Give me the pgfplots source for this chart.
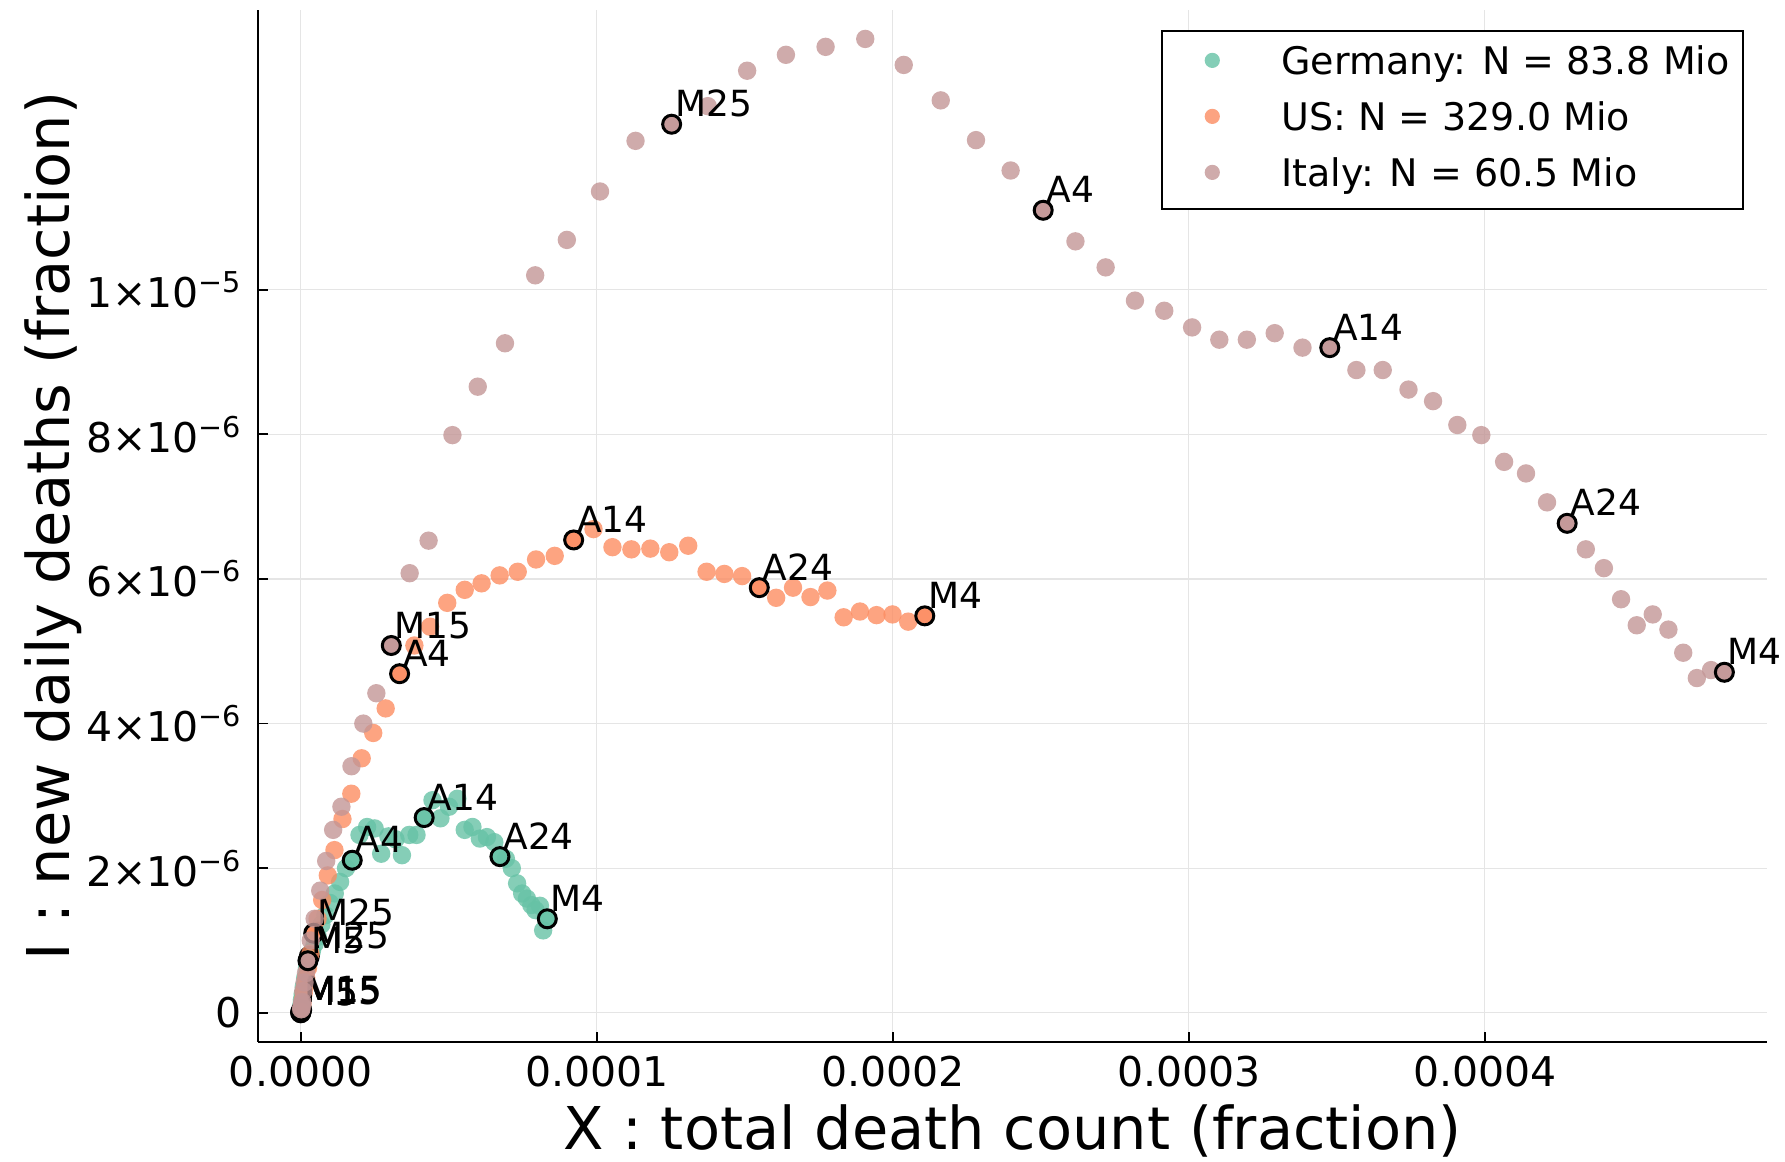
\documentclass[border=0pt]{standalone}
\usepackage{pgfplots}
\pgfplotsset{compat=1.18}
\usepackage{pgfplotstable}
\usepackage{fontspec}
\setmainfont{DejaVu Sans}

\definecolor{gerC}{HTML}{66C2A5}
\definecolor{usC}{HTML}{FC8D62}
\definecolor{itaC}{RGB}{195,150,150}

% x: total deaths / N in units of 1e-4, y: new daily deaths / N in units of 1e-6
% one row per day
\pgfplotstableread{
x y
0.0000 0.000
0.0000 0.000
0.0000 0.000
0.0000 0.000
0.0000 0.002
0.0000 0.003
0.0001 0.004
0.0001 0.005
0.0001 0.006
0.0001 0.008
0.0001 0.010
0.0002 0.015
0.0005 0.030
0.0011 0.060
0.0022 0.110
0.0040 0.180
0.0066 0.260
0.0102 0.360
0.0150 0.480
0.0212 0.620
0.0290 0.780
0.0376 0.850
0.0471 0.950
0.0576 1.050
0.0698 1.220
0.0833 1.350
0.0985 1.520
0.1150 1.650
0.1330 1.810
0.1530 2.000
0.1740 2.110
0.1986 2.460
0.2243 2.570
0.2498 2.550
0.2718 2.200
0.2962 2.440
0.3202 2.400
0.3420 2.180
0.3666 2.460
0.3912 2.460
0.4170 2.700
0.4450 2.940
0.4720 2.690
0.5010 2.850
0.5290 2.960
0.5540 2.530
0.5800 2.570
0.6050 2.410
0.6290 2.430
0.6540 2.360
0.6730 2.160
0.6930 2.130
0.7130 2.000
0.7310 1.790
0.7480 1.650
0.7640 1.580
0.7790 1.490
0.7930 1.420
0.8080 1.480
0.8190 1.140
0.8330 1.300
}\gerdata

\pgfplotstableread{
x y lab
0.0000 0.000 M5
0.0001 0.010 M15
0.0290 0.780 M25
0.1740 2.110 A4
0.4170 2.700 A14
0.6730 2.160 A24
0.8330 1.300 M4
}\gerlab

\pgfplotstableread{
x y
0.0003 0.005
0.0004 0.005
0.0005 0.010
0.0008 0.010
0.0011 0.015
0.0015 0.020
0.0018 0.020
0.0022 0.025
0.0025 0.030
0.0028 0.030
0.0032 0.040
0.0038 0.060
0.0046 0.080
0.0057 0.110
0.0075 0.180
0.0102 0.270
0.0138 0.360
0.0186 0.480
0.0248 0.620
0.0330 0.820
0.0440 1.100
0.0570 1.300
0.0725 1.560
0.0915 1.900
0.1140 2.250
0.1410 2.680
0.1710 3.030
0.2060 3.520
0.2450 3.870
0.2870 4.210
0.3340 4.690
0.3840 5.080
0.4370 5.340
0.4950 5.670
0.5540 5.850
0.6110 5.940
0.6720 6.050
0.7330 6.100
0.7950 6.270
0.8580 6.320
0.9220 6.540
0.9890 6.690
1.0530 6.440
1.1170 6.410
1.1810 6.420
1.2450 6.370
1.3090 6.460
1.3710 6.100
1.4310 6.070
1.4910 6.040
1.5490 5.880
1.6060 5.740
1.6630 5.880
1.7220 5.750
1.7790 5.840
1.8340 5.470
1.8890 5.550
1.9450 5.500
1.9990 5.510
2.0520 5.410
2.1080 5.490
}\usdata

\pgfplotstableread{
x y lab
0.0003 0.005 M5
0.0032 0.040 M15
0.0440 1.100 M25
0.3340 4.690 A4
0.9220 6.540 A14
1.5490 5.880 A24
2.1080 5.490 M4
}\uslab

\pgfplotstableread{
x y
0.0018 0.05
0.0020 0.05
0.0028 0.08
0.0035 0.10
0.0048 0.13
0.0056 0.15
0.0086 0.30
0.0130 0.42
0.0177 0.55
0.0245 0.72
0.0340 1.00
0.0470 1.30
0.0660 1.69
0.0860 2.10
0.1095 2.53
0.1375 2.85
0.1715 3.41
0.2115 4.00
0.2555 4.42
0.3060 5.08
0.3680 6.08
0.4320 6.53
0.5125 7.99
0.5980 8.66
0.6900 9.26
0.7920 10.20
0.8990 10.69
1.0110 11.36
1.1310 12.06
1.2530 12.29
1.3750 12.54
1.5080 13.03
1.6390 13.25
1.7730 13.36
1.9070 13.47
2.0370 13.11
2.1620 12.62
2.2810 12.07
2.3980 11.65
2.5080 11.10
2.6170 10.67
2.7190 10.31
2.8180 9.85
2.9170 9.71
3.0110 9.48
3.1030 9.31
3.1960 9.31
3.2900 9.40
3.3840 9.20
3.4760 9.20
3.5660 8.89
3.6550 8.89
3.7420 8.62
3.8250 8.46
3.9070 8.13
3.9880 7.99
4.0650 7.62
4.1390 7.46
4.2100 7.06
4.2780 6.77
4.3410 6.41
4.4020 6.15
4.4600 5.72
4.5130 5.36
4.5670 5.51
4.6200 5.30
4.6700 4.98
4.7160 4.63
4.7640 4.74
4.8090 4.71
}\itadata

\pgfplotstableread{
x y lab
0.0245 0.72 M5
0.3060 5.08 M15
1.2530 12.29 M25
2.5080 11.10 A4
3.4760 9.20 A14
4.2780 6.77 A24
4.8090 4.71 M4
}\italab

\pgfplotsset{
  dots/.style={only marks, mark=*, mark size=4.6pt, color=#1,
    mark options={fill=#1, draw opacity=0, fill opacity=0.8}},
  tagged/.style={only marks, mark=*, mark size=4.5pt, color=black,
    mark options={draw=black, line width=1.5pt, fill=#1, fill opacity=0.8,
      draw opacity=1},
    point meta=explicit symbolic, nodes near coords,
    every node near coord/.append style={anchor=base west, inner sep=0pt,
      xshift=1pt, yshift=3.7pt, text=black, fill opacity=1,
      font=\fontsize{18}{22}\selectfont},
    forget plot},
}

\begin{document}
\begin{tikzpicture}
\begin{axis}[
  at={(0pt,0pt)}, anchor=south west,
  scale only axis, width=754.5pt, height=516pt,
  xmin=-0.1443, xmax=4.953, ymin=-0.404, ymax=13.87,
  axis x line*=bottom, axis y line*=left,
  axis line style={line width=1.3pt, black},
  tick align=inside, major tick length=5pt,
  tick style={line width=0.9pt, black},
  xtick={0,1,2,3,4},
  xticklabels={0.0000,0.0001,0.0002,0.0003,0.0004},
  ytick={0,2,4,6,8,10},
  yticklabels={0,
    2×10\textsuperscript{−6},
    4×10\textsuperscript{−6},
    6×10\textsuperscript{−6},
    8×10\textsuperscript{−6},
    1×10\textsuperscript{−5}},
  grid=major, major grid style={line width=0.6pt, black!10},
  ticklabel style={font=\fontsize{20.5}{24}\selectfont},
  xticklabel style={anchor=base, yshift=-22.5pt},
  yticklabel style={anchor=east, xshift=-4.5pt},
  xlabel={X : total death count (fraction)},
  ylabel={I : new daily deaths (fraction)},
  label style={font=\fontsize{29.5}{35}\selectfont},
  xlabel style={at={(axis description cs:0.5,-0.1046)}, anchor=base},
  ylabel style={at={(axis description cs:-0.1246,0.5)}, anchor=base},
  legend cell align=left,
  legend style={at={(axis description cs:1,1)}, anchor=north east,
    xshift=-11.5pt, yshift=-9.8pt, draw=black, line width=1.2pt, fill=white,
    inner xsep=6.5pt, inner ysep=2.5pt, row sep=0pt, column sep=0pt,
    font=\fontsize{19}{23}\selectfont,
    cells={anchor=base west},
    nodes={inner sep=0pt, text depth=0pt}},
  legend image code/.code={
    \path[draw=none, fill=none] (-18.5pt,-8.8pt) rectangle (34.5pt,19.2pt);
    \path[mark size=3.8pt] plot coordinates {(0pt,6.9pt)};},
  clip=false,
]
\addplot[dots=gerC] table {\gerdata};
\addlegendentry{Germany: N = 83.8 Mio}
\addplot[tagged=gerC] table[meta=lab] {\gerlab};

\addplot[dots=usC] table {\usdata};
\addlegendentry{US: N = 329.0 Mio}
\addplot[tagged=usC] table[meta=lab] {\uslab};

\addplot[dots=itaC] table {\itadata};
\addlegendentry{Italy: N = 60.5 Mio}
\addplot[tagged=itaC] table[meta=lab] {\italab};
\end{axis}
\pgfresetboundingbox
\path (-129pt,-60pt) rectangle (763.5pt,521pt);
\end{tikzpicture}
\end{document}
